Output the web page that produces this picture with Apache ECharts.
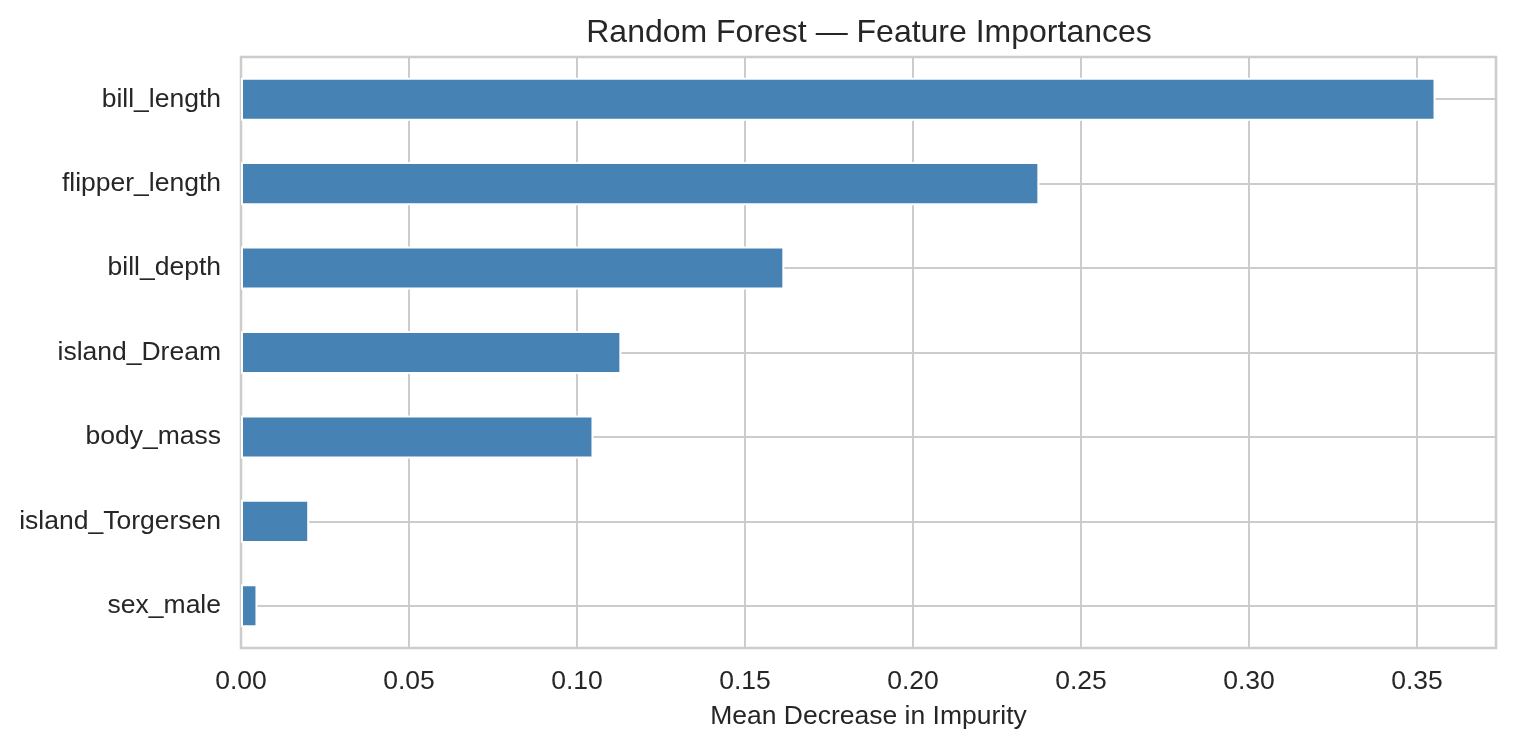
<!DOCTYPE html>
<html>
<head>
<meta charset="utf-8">
<title>Random Forest — Feature Importances</title>
<script src="https://cdn.jsdelivr.net/npm/echarts/dist/echarts.min.js"></script>
<style>
  html, body { margin: 0; padding: 0; background: #fff; }
  #chart { width: 1515px; height: 746px; }
</style>
</head>
<body>
<div id="chart"></div>
<script>
// values (top to bottom)
var features = ['bill_length', 'flipper_length', 'bill_depth', 'island_Dream', 'body_mass', 'island_Torgersen', 'sex_male'];
var importances = [0.3555, 0.2376, 0.1617, 0.1132, 0.1049, 0.0203, 0.0049];
var xStep = 0.05;
var xMax = 0.3735;

var textColor = '#262626';
var gridColor = '#cccccc';
var font = '"Liberation Sans", Arial, sans-serif';

// half-step slots so the horizontal grid lines sit on the bar centres
var halfSlots = [];
for (var i = 0; i <= features.length * 2; i++) {
    halfSlots.push(String(i));
}

var chart = echarts.init(document.getElementById('chart'));
chart.setOption({
    animation: false,
    backgroundColor: '#ffffff',
    textStyle: { fontFamily: font, color: textColor },
    title: {
        text: 'Random Forest — Feature Importances',
        left: 864,
        textAlign: 'center',
        top: 12,
        textStyle: { fontFamily: font, fontSize: 32, fontWeight: 'normal', color: textColor }
    },
    grid: {
        left: 241, right: 19, top: 57, bottom: 98,
        show: true,
        borderColor: gridColor,
        borderWidth: 2.5,
        containLabel: false
    },
    xAxis: {
        type: 'value',
        min: 0,
        max: xMax,
        interval: xStep,
        name: 'Mean Decrease in Impurity',
        nameLocation: 'middle',
        nameGap: 55,
        nameTextStyle: { fontFamily: font, fontSize: 26.5, color: textColor },
        axisLine: { show: false },
        axisTick: { show: false },
        axisLabel: {
            margin: 20,
            fontSize: 26.5,
            color: textColor,
            fontFamily: font,
            showMaxLabel: false,
            formatter: function (v) { return v.toFixed(2); }
        },
        splitLine: { show: true, lineStyle: { color: gridColor, width: 2 } }
    },
    yAxis: [
        {
            type: 'category',
            data: features,
            inverse: true,
            axisLine: { show: false },
            axisTick: { show: false },
            axisLabel: { margin: 20, fontSize: 26.5, color: textColor, fontFamily: font, padding: [10, 0, 0, 0] },
            splitLine: { show: false }
        },
        {
            type: 'category',
            data: halfSlots,
            boundaryGap: false,
            position: 'left',
            axisLine: { show: false },
            axisTick: { show: false },
            axisLabel: { show: false },
            splitLine: {
                show: true,
                interval: function (idx) { return idx % 2 === 1; },
                lineStyle: { color: gridColor, width: 2 }
            }
        }
    ],
    series: [
        {
            type: 'bar',
            yAxisIndex: 0,
            data: importances,
            barWidth: '51%',
            itemStyle: { color: '#4682b4', borderColor: '#ffffff', borderWidth: 2 }
        }
    ]
});
</script>
</body>
</html>
